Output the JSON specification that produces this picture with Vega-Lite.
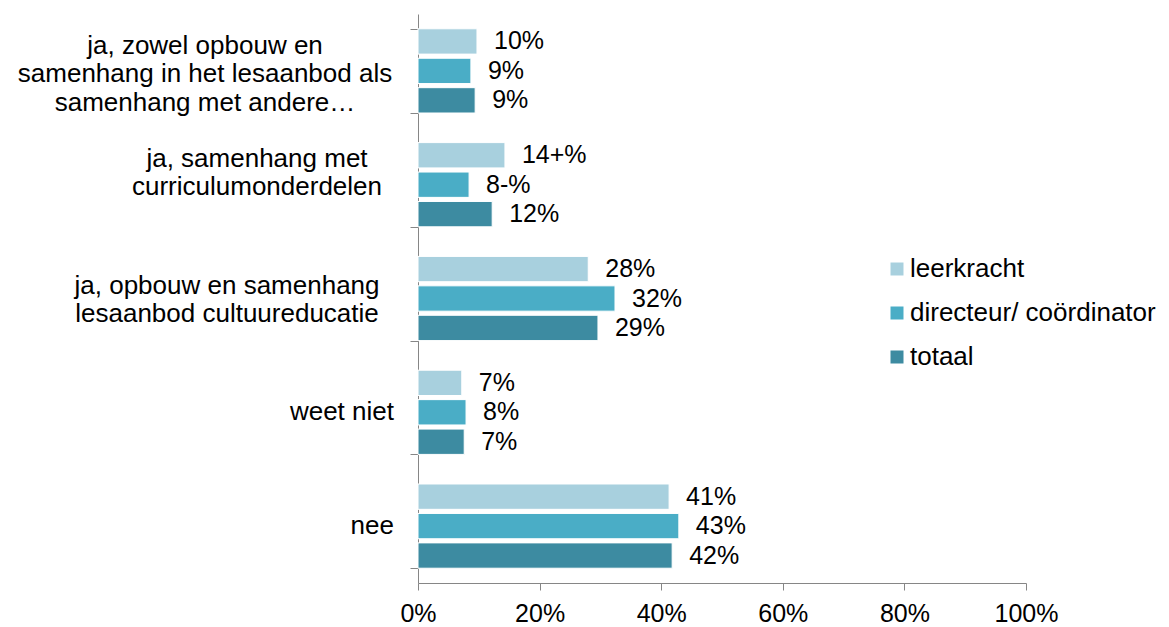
{
  "$schema": "https://vega.github.io/schema/vega-lite/v6.json",
  "width": 608,
  "height": 569,
  "autosize": "none",
  "padding": {"left": 418, "top": 14, "right": 143, "bottom": 44},
  "background": "white",
  "config": {
    "font": "Liberation Sans",
    "view": {"stroke": null},
    "axis": {"labelFont": "Liberation Sans", "labelColor": "#000000", "labelFontSize": 25, "domainColor": "#868686", "tickColor": "#868686", "grid": false, "title": null}
  },
  "datasets": {
    "bars": [
      {"cat": "ja, zowel opbouw en samenhang in het lesaanbod als samenhang met andere…", "group": "leerkracht", "value": 9.7, "label": "10%"},
      {"cat": "ja, zowel opbouw en samenhang in het lesaanbod als samenhang met andere…", "group": "directeur/ coördinator", "value": 8.7, "label": "9%"},
      {"cat": "ja, zowel opbouw en samenhang in het lesaanbod als samenhang met andere…", "group": "totaal", "value": 9.4, "label": "9%"},
      {"cat": "ja, samenhang met curriculumonderdelen", "group": "leerkracht", "value": 14.3, "label": "14+%"},
      {"cat": "ja, samenhang met curriculumonderdelen", "group": "directeur/ coördinator", "value": 8.4, "label": "8-%"},
      {"cat": "ja, samenhang met curriculumonderdelen", "group": "totaal", "value": 12.2, "label": "12%"},
      {"cat": "ja, opbouw en samenhang lesaanbod cultuureducatie", "group": "leerkracht", "value": 28.0, "label": "28%"},
      {"cat": "ja, opbouw en samenhang lesaanbod cultuureducatie", "group": "directeur/ coördinator", "value": 32.4, "label": "32%"},
      {"cat": "ja, opbouw en samenhang lesaanbod cultuureducatie", "group": "totaal", "value": 29.6, "label": "29%"},
      {"cat": "weet niet", "group": "leerkracht", "value": 7.2, "label": "7%"},
      {"cat": "weet niet", "group": "directeur/ coördinator", "value": 7.9, "label": "8%"},
      {"cat": "weet niet", "group": "totaal", "value": 7.6, "label": "7%"},
      {"cat": "nee", "group": "leerkracht", "value": 41.3, "label": "41%"},
      {"cat": "nee", "group": "directeur/ coördinator", "value": 42.9, "label": "43%"},
      {"cat": "nee", "group": "totaal", "value": 41.8, "label": "42%"}
    ],
    "cat1": [{"cat": "ja, zowel opbouw en samenhang in het lesaanbod als samenhang met andere…", "lines": ["ja, zowel opbouw en", "samenhang in het lesaanbod als", "samenhang met andere…"]}],
    "cat2": [{"cat": "ja, samenhang met curriculumonderdelen", "lines": ["ja, samenhang met", "curriculumonderdelen"]}],
    "cat3": [{"cat": "ja, opbouw en samenhang lesaanbod cultuureducatie", "lines": ["ja, opbouw en samenhang", "lesaanbod cultuureducatie"]}],
    "single": [{"cat": "weet niet", "lines": "weet niet"}, {"cat": "nee", "lines": "nee"}]
  },
  "layer": [
    {
      "data": {"name": "bars"},
      "mark": {"type": "bar", "stroke": "white", "strokeWidth": 1},
      "encoding": {
        "y": {
          "field": "cat", "type": "nominal", "sort": null,
          "scale": {"paddingInner": 0.26, "paddingOuter": 0.13},
          "axis": {"tickBand": "extent", "tickSize": 8, "labels": false}
        },
        "yOffset": {"field": "group", "type": "nominal", "sort": ["leerkracht", "directeur/ coördinator", "totaal"], "scale": {"paddingInner": 0.14}},
        "x": {
          "field": "value", "type": "quantitative",
          "scale": {"domain": [0, 100], "nice": false},
          "axis": {"values": [0, 20, 40, 60, 80, 100], "labelExpr": "datum.value + '%'", "tickSize": 7, "labelPadding": 11, "labelFlush": false, "labelOverlap": false}
        },
        "color": {
          "field": "group", "type": "nominal",
          "scale": {"domain": ["leerkracht", "directeur/ coördinator", "totaal"], "range": ["#A8D0DE", "#4AADC6", "#3D8BA1"]},
          "legend": {
            "orient": "none", "legendX": 466, "legendY": 242, "title": null,
            "symbolType": "square", "symbolSize": 169, "symbolStrokeWidth": 0,
            "labelFontSize": 26, "labelFont": "Liberation Sans", "labelColor": "#000000",
            "rowPadding": 18, "labelOffset": 0, "labelLimit": 500
          }
        }
      }
    },
    {
      "data": {"name": "bars"},
      "mark": {"type": "text", "align": "left", "baseline": "middle", "dx": 17, "fontSize": 25, "font": "Liberation Sans", "color": "#000000"},
      "encoding": {
        "y": {"field": "cat", "type": "nominal", "sort": null},
        "yOffset": {"field": "group", "type": "nominal", "sort": ["leerkracht", "directeur/ coördinator", "totaal"]},
        "x": {"field": "value", "type": "quantitative"},
        "text": {"field": "label"}
      }
    },
    {
      "data": {"name": "cat1"},
      "mark": {"type": "text", "align": "center", "baseline": "middle", "dx": -213, "dy": -25, "lineHeight": 28.5, "fontSize": 26, "font": "Liberation Sans", "color": "#000000"},
      "encoding": {
        "y": {"field": "cat", "type": "nominal", "sort": null},
        "x": {"datum": 0, "type": "quantitative"},
        "text": {"field": "lines"}
      }
    },
    {
      "data": {"name": "cat2"},
      "mark": {"type": "text", "align": "center", "baseline": "middle", "dx": -161, "dy": -26, "lineHeight": 28.5, "fontSize": 26, "font": "Liberation Sans", "color": "#000000"},
      "encoding": {
        "y": {"field": "cat", "type": "nominal", "sort": null},
        "x": {"datum": 0, "type": "quantitative"},
        "text": {"field": "lines"}
      }
    },
    {
      "data": {"name": "cat3"},
      "mark": {"type": "text", "align": "center", "baseline": "middle", "dx": -191, "dy": -13, "lineHeight": 28.5, "fontSize": 26, "font": "Liberation Sans", "color": "#000000"},
      "encoding": {
        "y": {"field": "cat", "type": "nominal", "sort": null},
        "x": {"datum": 0, "type": "quantitative"},
        "text": {"field": "lines"}
      }
    },
    {
      "data": {"name": "single"},
      "mark": {"type": "text", "align": "right", "baseline": "middle", "dx": -24, "fontSize": 26, "font": "Liberation Sans", "color": "#000000"},
      "encoding": {
        "y": {"field": "cat", "type": "nominal", "sort": null},
        "x": {"datum": 0, "type": "quantitative"},
        "text": {"field": "lines"}
      }
    }
  ]
}
